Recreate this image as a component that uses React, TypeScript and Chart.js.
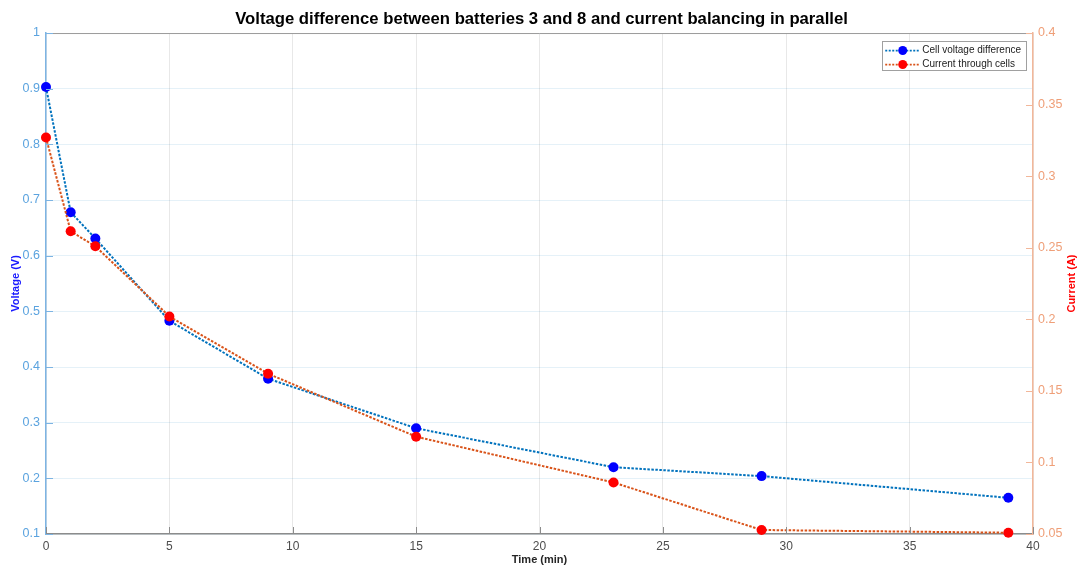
import React, { useEffect, useRef } from 'react';
import { Chart, registerables } from 'chart.js';

Chart.register(...registerables);

const timeMin = [0, 1, 2, 5, 9, 15, 23, 29, 39];
const voltageDiff = [0.903, 0.678, 0.631, 0.483, 0.379, 0.29, 0.22, 0.204, 0.165];
const currentA = [0.327, 0.2615, 0.251, 0.202, 0.162, 0.118, 0.086, 0.0528, 0.0509];
const seriesLabels = ['Cell voltage difference', 'Current through cells'];
const chartTitle = 'Voltage difference between batteries 3 and 8 and current balancing in parallel';
const xTitle = 'Time (min)';
const yLeftTitle = 'Voltage (V)';
const yRightTitle = 'Current (A)';

const FONT = '"Liberation Sans", Arial, Helvetica, sans-serif';
const BLUE_LINE = '#0072BD';
const ORANGE_LINE = '#D95319';
const BLUE_MARK = '#0000FF';
const RED_MARK = '#FF0000';
const LEFT_AXIS = '#7db4e3';
const LEFT_LABEL = '#5ba3df';
const RIGHT_AXIS = '#f2b79a';
const RIGHT_LABEL = '#ef9f78';

const fmt = (v: any) => parseFloat(Number(v).toFixed(2)).toString();

const matlabPlugin = {
  id: 'matlabStyle',
  afterDraw(chart: any) {
    const { ctx, chartArea: a, scales } = chart;
    ctx.save();
    // top box line
    ctx.lineWidth = 1;
    ctx.strokeStyle = '#9a9a9a';
    ctx.beginPath();
    ctx.moveTo(a.left, a.top + 0.5);
    ctx.lineTo(a.right, a.top + 0.5);
    ctx.stroke();
    const tl = 7;
    // left inner ticks
    ctx.strokeStyle = LEFT_AXIS;
    scales.y.ticks.forEach((t: any) => {
      const py = Math.round(scales.y.getPixelForValue(t.value)) + 0.5;
      ctx.beginPath();
      ctx.moveTo(a.left, py);
      ctx.lineTo(a.left + tl, py);
      ctx.stroke();
    });
    // right inner ticks
    ctx.strokeStyle = RIGHT_AXIS;
    scales.y1.ticks.forEach((t: any) => {
      const py = Math.round(scales.y1.getPixelForValue(t.value)) + 0.5;
      ctx.beginPath();
      ctx.moveTo(a.right - tl, py);
      ctx.lineTo(a.right, py);
      ctx.stroke();
    });
    // bottom inner ticks
    ctx.strokeStyle = '#8c8c8c';
    scales.x.ticks.forEach((t: any) => {
      const px = Math.round(scales.x.getPixelForValue(t.value)) + 0.5;
      ctx.beginPath();
      ctx.moveTo(px, a.bottom);
      ctx.lineTo(px, a.bottom - tl);
      ctx.stroke();
    });
    // right axis title (reads bottom to top)
    ctx.save();
    ctx.translate(1072, (a.top + a.bottom) / 2);
    ctx.rotate(-Math.PI / 2);
    ctx.font = `bold 11px ${FONT}`;
    ctx.fillStyle = '#ff0000';
    ctx.textAlign = 'center';
    ctx.textBaseline = 'middle';
    ctx.fillText(yRightTitle, 0, 0);
    ctx.restore();

    // legend
    ctx.font = `10px ${FONT}`;
    const textW = Math.max(...seriesLabels.map((s) => ctx.measureText(s).width));
    const boxW = 40 + textW + 5;
    const boxH = 29;
    const boxR = a.right - 7;
    const boxL = boxR - boxW;
    const boxT = a.top + 8;
    ctx.fillStyle = '#ffffff';
    ctx.fillRect(boxL, boxT, boxW, boxH);
    ctx.strokeStyle = '#a0a0a0';
    ctx.lineWidth = 1;
    ctx.strokeRect(Math.round(boxL) + 0.5, Math.round(boxT) + 0.5, Math.round(boxW), boxH);
    const rows = [
      { line: BLUE_LINE, mark: BLUE_MARK },
      { line: ORANGE_LINE, mark: RED_MARK },
    ];
    rows.forEach((r, i) => {
      const cy = boxT + 9.5 + i * 14;
      ctx.save();
      ctx.strokeStyle = r.line;
      ctx.lineWidth = 1.8;
      ctx.setLineDash([2, 1.5]);
      ctx.beginPath();
      ctx.moveTo(boxL + 3, cy);
      ctx.lineTo(boxL + 38, cy);
      ctx.stroke();
      ctx.restore();
      ctx.fillStyle = r.mark;
      ctx.beginPath();
      ctx.arc(boxL + 20.5, cy, 4.5, 0, Math.PI * 2);
      ctx.fill();
      ctx.fillStyle = '#222222';
      ctx.textAlign = 'left';
      ctx.textBaseline = 'middle';
      ctx.fillText(seriesLabels[i], boxL + 40, cy);
    });
    ctx.restore();
  },
};

export default function App() {
  const ref = useRef<HTMLCanvasElement | null>(null);
  useEffect(() => {
    if (!ref.current) return;
    Chart.defaults.font.family = FONT;
    const chart = new Chart(ref.current, {
      type: 'line',
      data: {
        datasets: [
          {
            label: seriesLabels[0],
            data: timeMin.map((t, i) => ({ x: t, y: voltageDiff[i] })),
            yAxisID: 'y',
            borderColor: BLUE_LINE,
            borderWidth: 2,
            borderDash: [2.5, 1.5],
            pointRadius: 5,
            pointBorderWidth: 0,
            pointBackgroundColor: BLUE_MARK,
            pointBorderColor: BLUE_MARK,
            fill: false,
            tension: 0,
            clip: false,
            order: 1,
          },
          {
            label: seriesLabels[1],
            data: timeMin.map((t, i) => ({ x: t, y: currentA[i] })),
            yAxisID: 'y1',
            borderColor: ORANGE_LINE,
            borderWidth: 2,
            borderDash: [2.5, 1.5],
            pointRadius: 5,
            pointBorderWidth: 0,
            pointBackgroundColor: RED_MARK,
            pointBorderColor: RED_MARK,
            fill: false,
            tension: 0,
            clip: false,
            order: 0,
          },
        ],
      },
      options: {
        animation: false,
        responsive: false,
        maintainAspectRatio: false,
        devicePixelRatio: 1,
        layout: { padding: 0 },
        plugins: {
          legend: { display: false },
          tooltip: { enabled: false },
          title: {
            display: true,
            text: chartTitle,
            color: '#000000',
            font: { size: 16.7, weight: 'bold', family: FONT },
            padding: { top: 9, bottom: 4 },
          },
        },
        scales: {
          x: {
            type: 'linear',
            min: 0,
            max: 40,
            ticks: { stepSize: 5, color: '#4d4d4d', font: { size: 12 }, padding: 5, maxRotation: 0 },
            grid: { color: '#e8e8e8', drawTicks: false },
            border: { color: '#8c8c8c', width: 1.5 },
            title: {
              display: true,
              text: xTitle,
              color: '#262626',
              font: { size: 11, weight: 'bold' },
              padding: { top: 0, bottom: 0 },
            },
            afterFit: (s: any) => {
              s.height = 33;
            },
          },
          y: {
            type: 'linear',
            position: 'left',
            min: 0.1,
            max: 1,
            ticks: { stepSize: 0.1, color: LEFT_LABEL, font: { size: 12.5 }, padding: 6, callback: fmt },
            grid: { color: 'rgba(0,114,189,0.10)', drawTicks: false },
            border: { color: LEFT_AXIS, width: 1.5 },
            title: {
              display: true,
              text: yLeftTitle,
              color: '#1a1aff',
              font: { size: 11, weight: 'bold' },
              padding: { top: 9, bottom: 0 },
            },
            afterFit: (s: any) => {
              s.width = 46;
            },
          },
          y1: {
            type: 'linear',
            position: 'right',
            min: 0.05,
            max: 0.4,
            ticks: { stepSize: 0.05, color: RIGHT_LABEL, font: { size: 12.5 }, padding: 5, callback: fmt },
            grid: { drawOnChartArea: false, drawTicks: false },
            border: { color: RIGHT_AXIS, width: 1.5 },
            afterFit: (s: any) => {
              s.width = 50;
            },
          },
        },
      } as any,
      plugins: [matlabPlugin],
    });
    return () => chart.destroy();
  }, []);
  return (
    <div style={{ position: 'absolute', left: 0, top: 0, width: 1083, height: 567, background: '#ffffff' }}>
      <canvas ref={ref} width={1083} height={567} style={{ width: 1083, height: 567, display: 'block' }} />
    </div>
  );
}
